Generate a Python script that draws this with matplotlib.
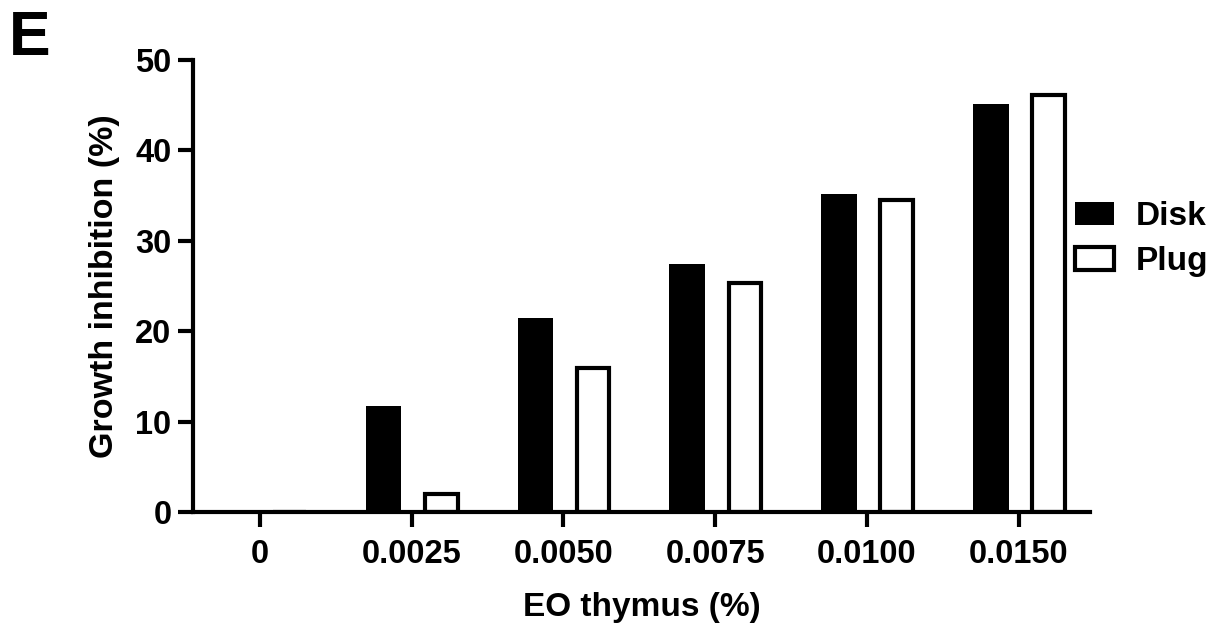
import numpy as np
import matplotlib
matplotlib.use("Agg")
import matplotlib.pyplot as plt

# --- Data ---
dose_labels = ["0", "0.0025", "0.0050", "0.0075", "0.0100", "0.0150"]
disk = [0, 11.7, 21.5, 27.4, 35.2, 45.1]
plug = [0, 2.0, 15.9, 25.3, 34.5, 46.1]

plt.rcParams['font.family'] = ['Liberation Sans', 'DejaVu Sans']
plt.rcParams['font.weight'] = 'bold'

fig = plt.figure(figsize=(12.14, 6.26), dpi=100)
ax = fig.add_axes([0.159, 0.182, 0.739, 0.722])

x = np.arange(len(dose_labels))
ax.bar(x - 0.185, disk, width=0.235, color='black', edgecolor='black',
       linewidth=0, label='Disk')
ax.bar(x + 0.195, plug, width=0.215, color='white', edgecolor='black',
       linewidth=3, label='Plug')

ax.set_xlim(-0.44, 5.47)
ax.set_ylim(0, 50)
ax.set_yticks([0, 10, 20, 30, 40, 50])
ax.set_xticks(x)
ax.set_xticklabels(dose_labels)

for s in ['top', 'right']:
    ax.spines[s].set_visible(False)
for s in ['left', 'bottom']:
    ax.spines[s].set_linewidth(3)

ax.tick_params(axis='both', width=3, length=10.5, labelsize=23.5)
ax.tick_params(axis='x', pad=9)
ax.tick_params(axis='y', pad=5)

ax.set_xlabel("EO thymus (%)", fontsize=24, fontweight='bold', labelpad=16)
ax.set_ylabel("Growth inhibition (%)", fontsize=24.5, fontweight='bold', labelpad=11)

ax.legend(loc='upper left', bbox_to_anchor=(1075 / 1214, 1 - 201 / 626),
          bbox_transform=fig.transFigure, frameon=False,
          handlelength=1.18, handleheight=0.7, handletextpad=0.65,
          labelspacing=0.42, borderpad=0, borderaxespad=0,
          prop={'weight': 'bold', 'size': 24})

fig.text(0.007, 0.985, "E", fontsize=45, fontweight='bold', va='top', ha='left')

fig.savefig("out.png", dpi=100)
